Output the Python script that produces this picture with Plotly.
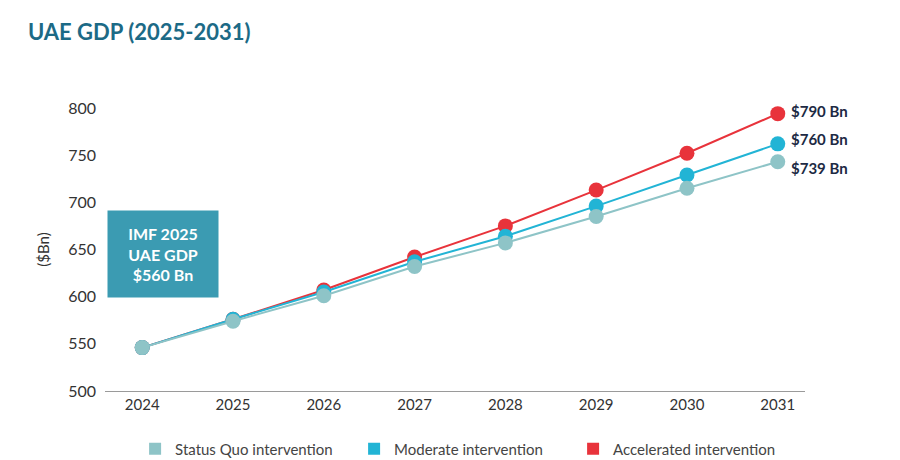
import plotly.graph_objects as go

years = ["2024", "2025", "2026", "2027", "2028", "2029", "2030", "2031"]
status_quo = [546, 574, 601, 632, 657, 685, 715, 743]
moderate = [546, 576, 605, 637, 664, 696, 729, 762]
accelerated = [546, 576, 607, 642, 675, 713, 752, 794]
end_labels = ["$739 Bn", "$760 Bn", "$790 Bn"]
y_ticks = [500, 550, 600, 650, 700, 750, 800]

C_SQ = "#8ec4c7"
C_MOD = "#22b4d5"
C_ACC = "#e8333b"
FONT = "Lato"

x = list(range(len(years)))
fig = go.Figure()

series = [
    ("Accelerated intervention", accelerated, C_ACC),
    ("Moderate intervention", moderate, C_MOD),
    ("Status Quo intervention", status_quo, C_SQ),
]
for name, vals, col in series:
    fig.add_trace(go.Scatter(
        x=x, y=vals, mode="lines+markers", name=name, showlegend=False,
        line=dict(color=col, width=2), marker=dict(color=col, size=15),
        cliponaxis=False,
    ))

for name, vals, col in reversed(series):
    fig.add_trace(go.Scatter(
        x=[None], y=[None], mode="markers", name=name,
        marker=dict(color=col, size=12, symbol="square"),
    ))

label_shifts = [-6, 5, 3]
for txt, vals, ys in zip(end_labels, [status_quo, moderate, accelerated], label_shifts):
    fig.add_annotation(
        x=x[-1], y=vals[-1], text=f"<b>{txt}</b>", showarrow=False,
        xanchor="left", xshift=11, yshift=ys,
        font=dict(family=FONT, size=15, color="#1d2a44"),
    )

fig.add_annotation(
    xref="paper", yref="paper", x=0.003, y=0.483,
    text="<b>IMF 2025<br>UAE GDP<br>$560 Bn</b>", showarrow=False,
    xanchor="left", yanchor="middle", align="center",
    bgcolor="#3b9bb2", width=104, height=80, borderpad=3,
    font=dict(family=FONT, size=16, color="white"),
)

fig.update_layout(
    width=900, height=460,
    margin=dict(l=105, r=95, t=108, b=69, autoexpand=False),
    paper_bgcolor="white", plot_bgcolor="white",
    title=dict(text="<b>UAE GDP (2025-2031)</b>", x=0.031, xanchor="left",
               y=0.93, yanchor="middle",
               font=dict(family=FONT, size=22, color="#1c6a86")),
    xaxis=dict(range=[-0.41, 7.3], tickmode="array", tickvals=x, ticktext=years,
               showgrid=False, zeroline=False, showline=True, linecolor="#9a9a9a",
               linewidth=1, ticks="", tickfont=dict(family=FONT, size=15, color="#333"),
               fixedrange=True),
    yaxis=dict(range=[500, 800], tickvals=y_ticks, showgrid=False, zeroline=False,
               showline=False, ticks="", ticklabelstandoff=8,
               tickfont=dict(family=FONT, size=16, color="#333"),
               title=dict(text="($Bn)", standoff=14,
                          font=dict(family=FONT, size=15, color="#333"))),
    legend=dict(orientation="h", x=0.043, xanchor="left", y=-0.205, yanchor="middle",
                font=dict(family=FONT, size=15, color="#444"),
                itemwidth=30, tracegroupgap=0, entrywidth=174),
)

fig.write_html("out.html")
